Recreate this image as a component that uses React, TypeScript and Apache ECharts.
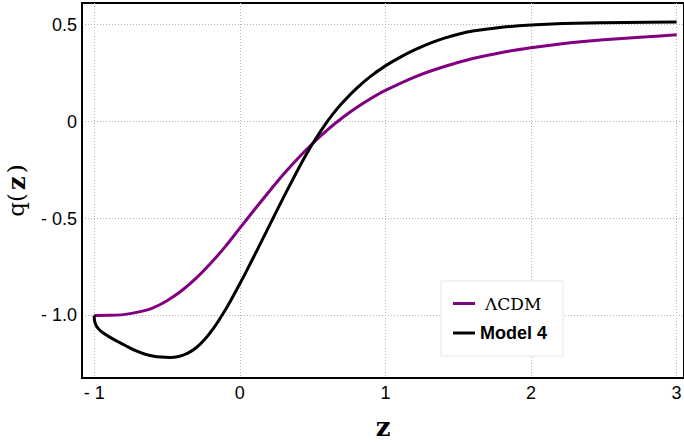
import React, { useEffect, useRef } from "react";
import * as echarts from "echarts";

// Deceleration parameter q(z) for the two models
const lcdmZ = [-1.0, -0.9, -0.8, -0.7, -0.6, -0.5, -0.4, -0.3, -0.2, -0.1, 0.0, 0.1, 0.2, 0.3, 0.4, 0.5, 0.6, 0.7, 0.8, 0.9, 1.0, 1.2, 1.4, 1.6, 1.8, 2.0, 2.2, 2.4, 2.6, 2.8, 3.0];
const lcdmQ = [-1.0, -0.999, -0.996, -0.983, -0.962, -0.924, -0.873, -0.808, -0.731, -0.645, -0.55, -0.455, -0.362, -0.272, -0.189, -0.113, -0.044, 0.017, 0.071, 0.119, 0.161, 0.23, 0.283, 0.326, 0.357, 0.381, 0.401, 0.416, 0.428, 0.438, 0.448];

const model4Z = [-1.0, -0.999, -0.9933, -0.9813, -0.9636, -0.9426, -0.9141, -0.8788, -0.8423, -0.78, -0.72, -0.66, -0.6, -0.54, -0.48, -0.42, -0.36, -0.3, -0.24, -0.18, -0.12, -0.06, 0.0, 0.05, 0.1, 0.16, 0.22, 0.28, 0.34, 0.4, 0.46, 0.52, 0.58, 0.64, 0.7, 0.8, 0.9, 1.0, 1.1, 1.2, 1.3, 1.4, 1.5, 1.6, 1.8, 2.0, 2.3, 2.65, 3.0];
const model4Q = [-1.0, -1.0206, -1.0408, -1.0593, -1.0751, -1.0884, -1.1028, -1.1187, -1.1332, -1.158, -1.181, -1.198, -1.209, -1.215, -1.217, -1.212, -1.196, -1.167, -1.123, -1.066, -0.997, -0.92, -0.837, -0.765, -0.691, -0.601, -0.511, -0.421, -0.333, -0.247, -0.165, -0.09, -0.0216, 0.0396, 0.0936, 0.1706, 0.2346, 0.2876, 0.3316, 0.3696, 0.4026, 0.4296, 0.451, 0.467, 0.487, 0.498, 0.507, 0.512, 0.514];

const xTicks = [-1, 0, 1, 2, 3];
const yTicks = [-1, -0.5, 0, 0.5];

const seriesNames = ["ΛCDM", "Model 4"];

const pairs = (xs: number[], ys: number[]) => xs.map((x, i) => [x, ys[i]]);

const fmtX = (v: number) => (v < 0 ? "- " + Math.abs(v) : String(v));
const fmtY = (v: number) =>
  v === 0 ? "0" : v < 0 ? "- " + Math.abs(v).toFixed(1) : v.toFixed(1);

export default function App() {
  const ref = useRef<HTMLDivElement>(null);

  useEffect(() => {
    document.body.style.margin = "0";
    if (!ref.current) return;
    const chart = echarts.init(ref.current, undefined, { renderer: "svg" });

    const gridLine = {
      show: true,
      lineStyle: { color: "#b4b4b4", width: 1, type: [1, 2] as number[] },
    };

    chart.setOption({
      animation: false,
      backgroundColor: "#fff",
      grid: {
        left: 82,
        right: 0,
        top: 3,
        bottom: 67,
        outerBoundsMode: "none",
        containLabel: false,
        show: true,
        borderColor: "#000",
        borderWidth: 2,
        backgroundColor: "transparent",
      },
      xAxis: {
        type: "value",
        min: -1.084,
        max: 3.051,
        name: "z",
        nameLocation: "middle",
        nameGap: 36,
        nameTextStyle: {
          fontFamily: "DejaVu Serif",
          fontSize: 26,
          fontWeight: "bold",
          color: "#000",
        },
        axisLine: { show: true, onZero: false, lineStyle: { color: "#000", width: 2 } },
        axisTick: { show: false, customValues: xTicks },
        axisLabel: {
          customValues: xTicks,
          formatter: fmtX,
          fontFamily: "Liberation Sans",
          fontSize: 18,
          color: "#000",
          margin: 6,
        },
        splitLine: gridLine,
      },
      yAxis: {
        type: "value",
        min: -1.323,
        max: 0.612,
        name: "{n|q(}{b|z}{n|)}",
        nameLocation: "middle",
        nameGap: 54,
        nameTextStyle: {
          color: "#000",
          rich: {
            n: { fontFamily: "DejaVu Serif", fontSize: 23, color: "#000", padding: [0, 1] },
            b: {
              fontFamily: "DejaVu Serif",
              fontSize: 24,
              fontWeight: "bold",
              color: "#000",
              padding: [0, 2],
            },
          },
        },
        axisLine: { show: true, onZero: false, lineStyle: { color: "#000", width: 2 } },
        axisTick: { show: false, customValues: yTicks },
        axisLabel: {
          customValues: yTicks,
          formatter: fmtY,
          fontFamily: "Liberation Sans",
          fontSize: 18,
          color: "#000",
          margin: 5,
        },
        splitLine: gridLine,
      },
      legend: {
        orient: "vertical",
        left: 441,
        top: 281,
        padding: [14, 16, 14, 12],
        itemGap: 12,
        itemWidth: 22,
        itemHeight: 3,
        icon: "rect",
        backgroundColor: "#fff",
        borderColor: "#e6e6e6",
        borderWidth: 1,
        data: seriesNames,
        formatter: (name: string) => (name === "ΛCDM" ? "{a|" + name + "}" : "{b|" + name + "}"),
        textStyle: {
          color: "#000",
          rich: {
            a: {
              fontFamily: "DejaVu Serif",
              fontSize: 17,
              color: "#000",
              width: 72,
              padding: [0, 0, 0, 5],
              height: 20,
            },
            b: {
              fontFamily: "Liberation Sans",
              fontWeight: "bold",
              fontSize: 18,
              color: "#000",
              width: 77,
              height: 20,
            },
          },
        },
      },
      series: [
        {
          name: seriesNames[0],
          type: "line",
          data: pairs(lcdmZ, lcdmQ),
          showSymbol: false,
          smooth: 0.3,
          lineStyle: { color: "#800080", width: 3 },
          itemStyle: { color: "#800080" },
          z: 2,
        },
        {
          name: seriesNames[1],
          type: "line",
          data: pairs(model4Z, model4Q),
          showSymbol: false,
          smooth: 0.3,
          lineStyle: { color: "#000", width: 3 },
          itemStyle: { color: "#000" },
          z: 3,
        },
      ],
    });

    return () => chart.dispose();
  }, []);

  return <div ref={ref} style={{ width: 684, height: 445 }} />;
}
